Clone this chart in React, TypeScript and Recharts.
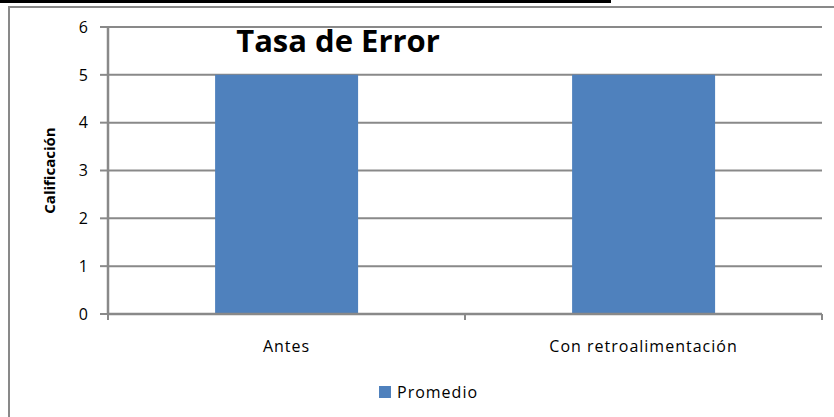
import React from 'react';
import { BarChart, Bar, XAxis, YAxis, CartesianGrid, Legend } from 'recharts';

const categories = ['Antes', 'Con retroalimentación'];
const promedio = [5, 5];
const yTicks = [0, 1, 2, 3, 4, 5, 6];

const data = categories.map((name, i) => ({ name, promedio: promedio[i] }));

const GRAY = '#898989';
const BLUE = '#4F81BD';
const FONT = '"Open Sans", sans-serif';

const XTick = (props: any) => {
    const { x, y, payload, index, visibleTicksCount } = props;
    const half = payload && payload.offset ? payload.offset : 178.5;
    const last = index === visibleTicksCount - 1;
    return (
        <g>
            <line x1={x - half} x2={x - half} y1={y - 6} y2={y} stroke={GRAY} strokeWidth={2} />
            {last && <line x1={x + half} x2={x + half} y1={y - 6} y2={y} stroke={GRAY} strokeWidth={2} />}
            <text x={x} y={y + 32} textAnchor="middle" fontSize={16} letterSpacing={1} fill="#000">
                {payload.value}
            </text>
        </g>
    );
};

const LegendContent = (props: any) => {
    const { payload } = props;
    return (
        <div style={{ display: 'flex', alignItems: 'center' }}>
            {(payload || []).map((p: any) => (
                <div key={p.value} style={{ display: 'flex', alignItems: 'center' }}>
                    <span style={{ width: 12, height: 12, background: BLUE, display: 'inline-block' }} />
                    <span style={{ marginLeft: 6, fontSize: 16, letterSpacing: 1, color: '#000', lineHeight: '22px' }}>
                        {p.value}
                    </span>
                </div>
            ))}
        </div>
    );
};

export default function App() {
    return (
        <div style={{ position: 'absolute', left: 0, top: 0, width: 834, height: 417, background: '#fff', overflow: 'hidden', fontFamily: FONT }}>
            <div style={{ position: 'absolute', left: 0, top: 0, width: 611, height: 3, background: '#000' }} />
            <div style={{ position: 'absolute', left: 8, top: 6, width: 840, height: 420, borderLeft: `2px solid ${GRAY}`, borderTop: `2px solid ${GRAY}` }} />
            <div style={{ position: 'absolute', left: 0, top: 0 }}>
                <BarChart
                    width={834}
                    height={417}
                    data={data}
                    margin={{ top: 27, right: 12, left: 0, bottom: 0 }}
                    barCategoryGap="30%"
                    style={{ fontFamily: FONT }}
                >
                    <CartesianGrid vertical={false} stroke={GRAY} strokeWidth={2} />
                    <XAxis
                        dataKey="name"
                        height={103}
                        tickSize={6}
                        tickMargin={0}
                        tickLine={false}
                        axisLine={{ stroke: GRAY, strokeWidth: 2.5 }}
                        tick={<XTick />}
                        interval={0}
                    />
                    <YAxis
                        width={108}
                        domain={[0, 6]}
                        ticks={yTicks}
                        tickSize={8}
                        tickMargin={12}
                        tickLine={{ stroke: GRAY, strokeWidth: 2 }}
                        axisLine={{ stroke: GRAY, strokeWidth: 2.5 }}
                        tick={{ fill: '#000', fontSize: 16 }}
                        label={{ value: 'Calificación', angle: -90, position: 'center', dx: -4, style: { fontWeight: 700, fontSize: 15, fill: '#000' } }}
                    />
                    <Legend
                        layout="vertical"
                        align="center"
                        verticalAlign="middle"
                        wrapperStyle={{ top: 381, left: 379, width: 'auto' }}
                        content={<LegendContent />}
                    />
                    <Bar dataKey="promedio" name="Promedio" fill={BLUE} isAnimationActive={false} />
                </BarChart>
            </div>
            <div style={{ position: 'absolute', left: 338, top: 23, transform: 'translateX(-50%)', fontSize: 31, fontWeight: 700, lineHeight: '34px', color: '#000', whiteSpace: 'nowrap' }}>
                Tasa de Error
            </div>
        </div>
    );
}
